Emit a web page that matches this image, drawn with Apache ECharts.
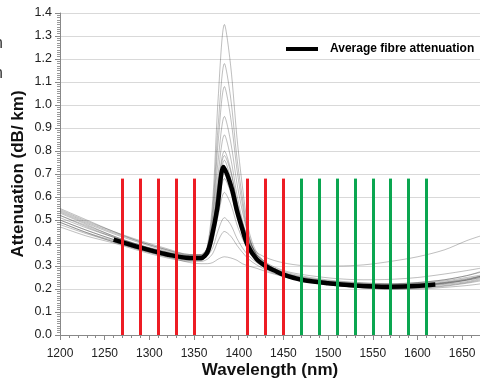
<!DOCTYPE html>
<html><head><meta charset="utf-8">
<script src="https://cdn.jsdelivr.net/npm/echarts@6/dist/echarts.min.js"></script>
<style>html,body{margin:0;padding:0;background:#fff}#c{width:480px;height:381px}</style>
</head><body><div id="c"></div>
<script>
// wavelength samples (nm)
const wl = [1200,1230,1260,1290,1320,1345,1358,1365,1371,1377,1384,1391,1398,1404,1411,1420,1435,1455,1480,1510,1540,1570,1600,1630,1655,1670];
// individual fibre attenuation curves (dB/km)
const g1  = [0.53,0.48,0.43,0.39,0.36,0.34,0.34,0.39,0.59,1.03,1.35,1.17,0.86,0.65,0.46,0.36,0.30,0.265,0.245,0.23,0.222,0.22,0.225,0.235,0.25,0.26];
const g2  = [0.52,0.47,0.425,0.385,0.355,0.335,0.335,0.38,0.55,0.91,1.18,1.03,0.77,0.60,0.44,0.35,0.295,0.26,0.24,0.225,0.218,0.215,0.22,0.23,0.245,0.255];
const g3  = [0.50,0.455,0.415,0.38,0.35,0.33,0.33,0.37,0.52,0.84,1.08,0.945,0.72,0.57,0.43,0.345,0.29,0.255,0.235,0.22,0.212,0.21,0.215,0.225,0.238,0.25];
const g4  = [0.55,0.50,0.45,0.405,0.37,0.345,0.345,0.38,0.50,0.76,0.95,0.84,0.66,0.54,0.43,0.35,0.30,0.27,0.25,0.235,0.227,0.223,0.228,0.24,0.258,0.275];
const g5  = [0.49,0.445,0.41,0.375,0.345,0.325,0.325,0.36,0.46,0.70,0.87,0.77,0.61,0.50,0.40,0.33,0.285,0.255,0.235,0.22,0.21,0.205,0.21,0.22,0.232,0.245];
const g6  = [0.51,0.465,0.425,0.39,0.36,0.34,0.34,0.37,0.46,0.66,0.80,0.72,0.58,0.49,0.41,0.34,0.295,0.262,0.24,0.225,0.215,0.21,0.215,0.226,0.24,0.255];
const g7  = [0.48,0.44,0.405,0.37,0.34,0.325,0.325,0.35,0.44,0.62,0.76,0.68,0.55,0.46,0.39,0.33,0.285,0.25,0.23,0.215,0.205,0.20,0.205,0.215,0.228,0.24];
const g8  = [0.535,0.485,0.44,0.40,0.365,0.345,0.345,0.37,0.43,0.57,0.68,0.62,0.52,0.45,0.39,0.34,0.295,0.265,0.245,0.232,0.225,0.222,0.228,0.24,0.258,0.272];
const g9  = [0.50,0.455,0.415,0.38,0.35,0.33,0.33,0.35,0.41,0.52,0.62,0.57,0.48,0.42,0.37,0.325,0.285,0.255,0.235,0.22,0.212,0.208,0.213,0.223,0.238,0.25];
const g10 = [0.52,0.475,0.43,0.39,0.355,0.335,0.335,0.345,0.38,0.455,0.51,0.48,0.42,0.38,0.345,0.315,0.28,0.255,0.235,0.22,0.212,0.21,0.215,0.228,0.242,0.255];
const g11 = [0.47,0.43,0.40,0.365,0.335,0.32,0.32,0.33,0.355,0.41,0.45,0.43,0.39,0.36,0.33,0.305,0.275,0.25,0.23,0.215,0.205,0.20,0.203,0.212,0.225,0.235];
const g12 = [0.49,0.445,0.405,0.37,0.34,0.315,0.31,0.31,0.315,0.33,0.34,0.335,0.325,0.31,0.30,0.29,0.27,0.25,0.23,0.215,0.205,0.20,0.20,0.207,0.215,0.222];
const g13 = [0.54,0.49,0.445,0.405,0.37,0.35,0.35,0.38,0.45,0.61,0.72,0.66,0.55,0.47,0.41,0.36,0.33,0.31,0.30,0.30,0.305,0.32,0.34,0.37,0.41,0.43];
const g14 = [0.545,0.495,0.45,0.41,0.375,0.35,0.35,0.38,0.47,0.65,0.78,0.71,0.58,0.49,0.42,0.35,0.305,0.275,0.258,0.245,0.24,0.242,0.25,0.265,0.28,0.29];
const greys = [g1,g2,g3,g4,g5,g6,g7,g8,g9,g10,g11,g12,g13,g14];
// average fibre attenuation
const avgWl  = [1260,1290,1320,1345,1358,1365,1370,1376,1383,1392,1398,1404,1410,1420,1430,1440,1450,1470,1500,1530,1560,1590,1620];
const avgVal = [0.415,0.38,0.35,0.335,0.335,0.36,0.43,0.55,0.73,0.64,0.54,0.46,0.39,0.33,0.30,0.28,0.262,0.24,0.225,0.215,0.21,0.212,0.22];
// CWDM channel markers
const redCh   = [1270,1290,1310,1330,1350,1410,1430,1450];
const greenCh = [1470,1490,1510,1530,1550,1570,1590,1610];
const chHeight = 0.68;
const legendName = 'Average fibre attenuation';

const font = '"Liberation Sans", Arial, sans-serif';
const series = [];
greys.forEach((g,i)=>{
  series.push({type:'line', name:'g'+i, data: wl.map((w,j)=>[w,g[j]]), smooth:0.3, showSymbol:false,
    lineStyle:{color:'rgba(40,40,40,0.38)', width:0.8}, silent:true, z:2});
});
series.push({type:'line', name:legendName, data: avgWl.map((w,j)=>[w,avgVal[j]]), smooth:0.3, showSymbol:false,
  lineStyle:{color:'#000', width:4.5}, itemStyle:{color:'#000'}, z:3});
function chLines(arr,color){
  return {type:'line', data:[], silent:true, z:4,
    markLine:{silent:true, symbol:['none','none'], label:{show:false}, animation:false,
      lineStyle:{color:color, width:3, type:'solid'},
      data: arr.map(w=>[{coord:[w,0]},{coord:[w,chHeight]}])}};
}
series.push(chLines(redCh,'#ed1c24'));
series.push(chLines(greenCh,'#0aa650'));

const chart = echarts.init(document.getElementById('c'));
chart.setOption({
  animation:false,
  backgroundColor:'#fff',
  textStyle:{fontFamily:font},
  grid:{left:60, right:0, top:13, bottom:46, containLabel:false, outerBoundsMode:'none'},
  legend:{data:[legendName], left:281, top:38, icon:'rect', itemWidth:32, itemHeight:4, itemGap:6,
    textStyle:{fontFamily:font, fontWeight:'bold', fontSize:12, color:'#000', padding:[0,0,0,7]}},
  xAxis:{type:'value', min:1200, max:1670, interval:50,
    name:'Wavelength (nm)', nameLocation:'middle', nameGap:27, nameMoveOverlap:false,
    nameTextStyle:{fontFamily:font, fontWeight:'bold', fontSize:17, color:'#111', verticalAlign:'top'},
    axisLine:{lineStyle:{color:'#888', width:1}},
    axisTick:{show:true, length:5, lineStyle:{color:'#888'}},
    minorTick:{show:true, splitNumber:5, length:3, lineStyle:{color:'#888'}},
    axisLabel:{fontFamily:font, fontSize:12, color:'#222', margin:13, showMaxLabel:false, formatter:v=>String(v)},
    splitLine:{show:false}},
  yAxis:{type:'value', min:0, max:1.4, interval:0.1,
    name:'Attenuation (dB/ km)', nameLocation:'middle', nameGap:33, nameMoveOverlap:false,
    nameTextStyle:{fontFamily:font, fontWeight:'bold', fontSize:17, color:'#111'},
    axisLine:{show:true, lineStyle:{color:'#888', width:1}},
    axisTick:{show:true, length:5, lineStyle:{color:'#888'}},
    minorTick:{show:true, splitNumber:10, length:3, lineStyle:{color:'#999'}},
    axisLabel:{fontFamily:font, fontSize:12.5, color:'#222', margin:8, formatter:v=>v.toFixed(1)},
    splitLine:{show:true, lineStyle:{color:'#d9d9d9', width:1}}},
  graphic:[
    {type:'text', left:-6, top:36, style:{text:'n', font:'16px '+font, fill:'#333'}},
    {type:'text', left:-6, top:66, style:{text:'n', font:'16px '+font, fill:'#333'}}
  ],
  series: series
});
</script></body></html>
